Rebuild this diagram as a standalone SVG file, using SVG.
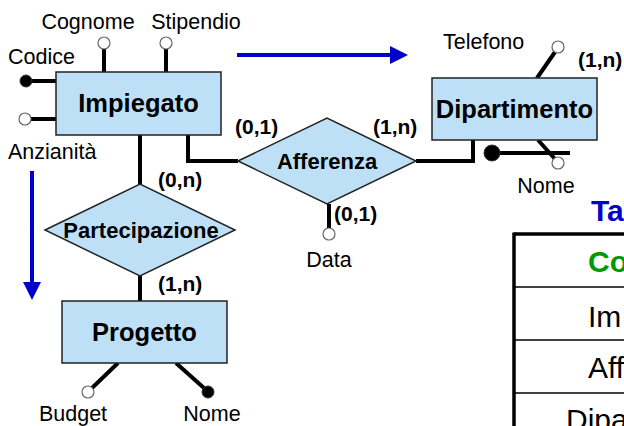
<svg xmlns="http://www.w3.org/2000/svg" width="624" height="426" viewBox="0 0 624 426">
<style>
.ent{fill:#BDE0F7;stroke:#222;stroke-width:1.5}
.rel{fill:#BDE0F7;stroke:#222;stroke-width:1.5}
.ln{stroke:#000;stroke-width:4;fill:none}
.oc{fill:#fff;stroke:#666;stroke-width:1.2}
.fc{fill:#000;stroke:#333;stroke-width:1}
.t{font-family:"Liberation Sans",Arial,sans-serif;font-size:21.5px;fill:#000}
.b{font-family:"Liberation Sans",Arial,sans-serif;font-weight:bold;fill:#000}
.title{font-size:25.5px}
.rl{font-size:22px}
.card{font-family:"Liberation Sans",Arial,sans-serif;font-weight:bold;font-size:21px;fill:#000}
.tb{font-family:"Liberation Sans",Arial,sans-serif;font-size:30px;fill:#000}
.blue{stroke:#0000CC;stroke-width:4;fill:none}
</style>
<defs>
<marker id="ah" markerWidth="4.5" markerHeight="4.5" refX="0.5" refY="2.25" orient="auto" markerUnits="strokeWidth">
<path d="M0,0 L4.5,2.25 L0,4.5 Z" fill="#0000CC"/>
</marker>
</defs>
<g id="connectors">
<line class="ln" x1="104" y1="49" x2="104" y2="72"/>
<line class="ln" x1="166" y1="49" x2="166" y2="72"/>
<line class="ln" x1="31" y1="81" x2="56" y2="81"/>
<line class="ln" x1="31" y1="119" x2="56" y2="119"/>
<line class="ln" x1="140" y1="135" x2="140" y2="184"/>
<polyline class="ln" points="188,135 188,161 238,161"/>
<polyline class="ln" points="416,161 473,161 473,140"/>
<line class="ln" x1="329" y1="204" x2="329" y2="228"/>
<line class="ln" x1="140" y1="276" x2="140" y2="301"/>
<line class="ln" x1="537" y1="78" x2="555" y2="52"/>
<line class="ln" x1="538" y1="140" x2="555" y2="159"/>
<line class="ln" x1="492" y1="153" x2="570" y2="153"/>
<line class="ln" x1="118" y1="363" x2="92" y2="388"/>
<line class="ln" x1="176" y1="363" x2="204" y2="388"/>
<line class="blue" x1="237" y1="55" x2="392" y2="55" marker-end="url(#ah)"/>
<line class="blue" x1="32" y1="171" x2="32" y2="284" marker-end="url(#ah)"/>
</g>
<g id="impiegato">
<rect class="ent" x="56" y="72" width="165" height="63"/>
<text class="b title" x="138.5" y="112" text-anchor="middle">Impiegato</text>
</g>
<g id="attr-cognome">
<circle class="oc" cx="104" cy="43" r="6"/>
<text class="t" x="88" y="29" text-anchor="middle">Cognome</text>
</g>
<g id="attr-stipendio">
<circle class="oc" cx="166" cy="43" r="6"/>
<text class="t" x="196" y="29" text-anchor="middle">Stipendio</text>
</g>
<g id="attr-codice">
<circle class="fc" cx="26" cy="81" r="6"/>
<text class="t" x="8" y="64">Codice</text>
</g>
<g id="attr-anzianita">
<circle class="oc" cx="25" cy="119" r="6"/>
<text class="t" x="8" y="159">Anzianità</text>
</g>
<g id="afferenza">
<polygon class="rel" points="238,161 327,118 416,161 327,204"/>
<text class="b rl" x="327" y="169" text-anchor="middle">Afferenza</text>
<text class="card" x="235" y="134">(0,1)</text>
<text class="card" x="373" y="134">(1,n)</text>
</g>
<g id="attr-data">
<circle class="oc" cx="329" cy="234" r="6"/>
<text class="card" x="334" y="221">(0,1)</text>
<text class="t" x="329" y="267" text-anchor="middle">Data</text>
</g>
<g id="dipartimento">
<rect class="ent" x="432" y="78" width="165" height="62"/>
<text class="b title" x="514.5" y="118" text-anchor="middle">Dipartimento</text>
</g>
<g id="attr-telefono">
<circle class="oc" cx="558" cy="47" r="6"/>
<text class="t" x="443" y="49">Telefono</text>
<text class="card" x="578" y="67">(1,n)</text>
</g>
<g id="attr-nome-dip">
<circle class="oc" cx="558" cy="163" r="6"/>
<circle class="fc" cx="492" cy="153" r="8"/>
<text class="t" x="546" y="193" text-anchor="middle">Nome</text>
</g>
<g id="partecipazione">
<polygon class="rel" points="45,230 140,184 235,230 140,276"/>
<text class="b rl" x="141" y="238" text-anchor="middle">Partecipazione</text>
<text class="card" x="158" y="187">(0,n)</text>
<text class="card" x="158" y="291">(1,n)</text>
</g>
<g id="progetto">
<rect class="ent" x="62" y="301" width="165" height="62"/>
<text class="b title" x="144.5" y="341" text-anchor="middle">Progetto</text>
</g>
<g id="attr-budget">
<circle class="oc" cx="88" cy="392" r="6"/>
<text class="t" x="73" y="421" text-anchor="middle">Budget</text>
</g>
<g id="attr-nome-prog">
<circle class="fc" cx="208" cy="392" r="6"/>
<text class="t" x="212" y="421" text-anchor="middle">Nome</text>
</g>
<g id="tabella">
<text class="b" x="591" y="221" font-size="30" style="fill:#0000CC">Ta</text>
<line x1="514" y1="234" x2="624" y2="234" stroke="#000" stroke-width="3.5"/>
<line x1="514" y1="232.5" x2="514" y2="426" stroke="#000" stroke-width="3.5"/>
<line x1="514" y1="287" x2="624" y2="287" stroke="#000" stroke-width="1.5"/>
<line x1="514" y1="340" x2="624" y2="340" stroke="#000" stroke-width="1.5"/>
<line x1="514" y1="393" x2="624" y2="393" stroke="#000" stroke-width="1.5"/>
<text class="b" x="588" y="272" font-size="30" style="fill:#009900">Co</text>
<text class="tb" x="588" y="327">Im</text>
<text class="tb" x="588" y="378">Aff</text>
<text class="tb" x="566" y="430">Dipa</text>
</g>
</svg>
